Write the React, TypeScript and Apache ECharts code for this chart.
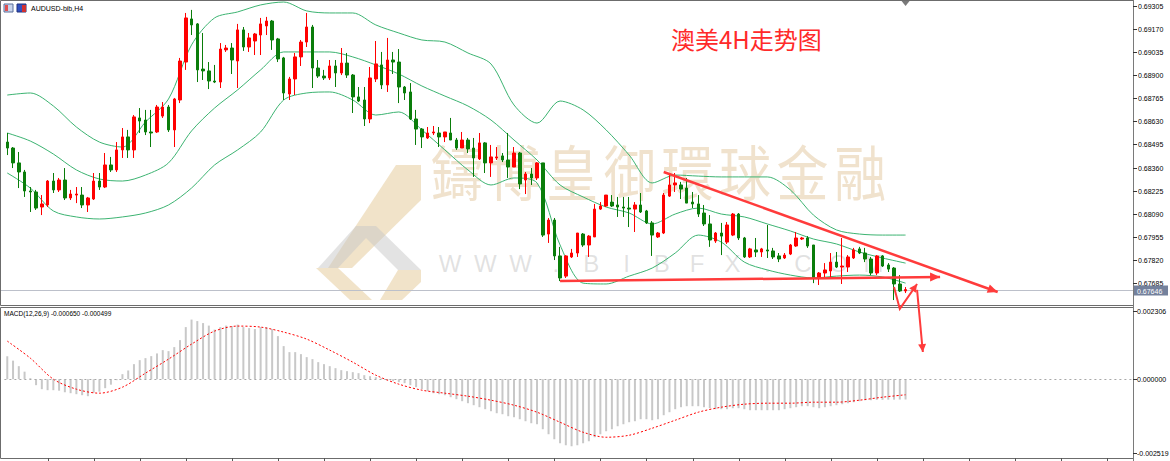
import React, { useEffect, useRef } from "react";
import * as echarts from "echarts";

// [open, close, low, high]
const candles: number[][] = [
  [0.68509, 0.68474, 0.68433, 0.68562], [0.68474, 0.68387, 0.68357, 0.6848], [0.68387, 0.68334, 0.6824, 0.68451], [0.68334, 0.68223, 0.68188, 0.68346],
  [0.68223, 0.68217, 0.681, 0.68246], [0.68217, 0.68123, 0.68112, 0.68229], [0.68129, 0.68147, 0.68082, 0.68199], [0.68141, 0.68281, 0.68129, 0.68287],
  [0.68281, 0.68229, 0.68211, 0.68328], [0.68229, 0.68287, 0.68217, 0.68299], [0.68287, 0.68182, 0.6817, 0.68357], [0.68182, 0.68205, 0.6817, 0.68229],
  [0.68199, 0.68205, 0.68152, 0.68246], [0.68199, 0.68141, 0.68123, 0.68246], [0.68141, 0.68182, 0.681, 0.68188], [0.68176, 0.68281, 0.6817, 0.68328],
  [0.68281, 0.68246, 0.68229, 0.68328], [0.68246, 0.68375, 0.6824, 0.68445], [0.68375, 0.68346, 0.68334, 0.68422], [0.68346, 0.68463, 0.68334, 0.68509],
  [0.68463, 0.68539, 0.68416, 0.68591], [0.68539, 0.68463, 0.68416, 0.6858], [0.68463, 0.68656, 0.68416, 0.68667], [0.6865, 0.68632, 0.68562, 0.68708],
  [0.68638, 0.68568, 0.6855, 0.68697], [0.68568, 0.68562, 0.6848, 0.68697], [0.68568, 0.68714, 0.68562, 0.68726], [0.68661, 0.68714, 0.6865, 0.68743],
  [0.68714, 0.6858, 0.68568, 0.68726], [0.6858, 0.68761, 0.6848, 0.68767], [0.68755, 0.68983, 0.68737, 0.69001], [0.68977, 0.69235, 0.68931, 0.69264],
  [0.69229, 0.69194, 0.69135, 0.69282], [0.692, 0.68931, 0.6886, 0.69205], [0.68936, 0.68925, 0.68872, 0.69147], [0.68925, 0.68866, 0.68819, 0.68977],
  [0.68866, 0.6886, 0.68854, 0.6896], [0.6886, 0.69053, 0.68825, 0.69088], [0.69048, 0.69059, 0.69036, 0.69077], [0.69059, 0.68989, 0.68907, 0.69088],
  [0.68983, 0.69165, 0.68825, 0.692], [0.69165, 0.69065, 0.69042, 0.69182], [0.69065, 0.69118, 0.69036, 0.69147], [0.691, 0.69141, 0.69018, 0.69147],
  [0.69135, 0.692, 0.69018, 0.69235], [0.69188, 0.69217, 0.69135, 0.69241], [0.69217, 0.69106, 0.69048, 0.69223], [0.69112, 0.68995, 0.68977, 0.69118],
  [0.69001, 0.68796, 0.68755, 0.69007], [0.6879, 0.68878, 0.68755, 0.6889], [0.68878, 0.69007, 0.68784, 0.6903], [0.69007, 0.69094, 0.68954, 0.69106],
  [0.69094, 0.69182, 0.69065, 0.69264], [0.69182, 0.68942, 0.68825, 0.69194], [0.68942, 0.68895, 0.68884, 0.68989], [0.68895, 0.68884, 0.68872, 0.68931],
  [0.68884, 0.68954, 0.68872, 0.68989], [0.68954, 0.68913, 0.68831, 0.68989], [0.68913, 0.68971, 0.68901, 0.69059], [0.68971, 0.68901, 0.68884, 0.6903],
  [0.68901, 0.68773, 0.68679, 0.68907], [0.68773, 0.68749, 0.68743, 0.68831], [0.68755, 0.68644, 0.68603, 0.68831], [0.68644, 0.68884, 0.6862, 0.68948],
  [0.68878, 0.68966, 0.6886, 0.691], [0.6896, 0.68843, 0.68819, 0.69036], [0.68843, 0.68989, 0.68802, 0.69118], [0.68989, 0.68977, 0.68907, 0.69036],
  [0.68977, 0.68831, 0.68737, 0.69053], [0.68831, 0.68796, 0.68755, 0.68837], [0.68802, 0.68644, 0.68638, 0.68854], [0.68644, 0.68585, 0.68492, 0.68697],
  [0.68585, 0.68539, 0.68474, 0.68591], [0.68533, 0.68562, 0.68527, 0.68597], [0.68562, 0.68568, 0.6855, 0.68603], [0.68562, 0.68539, 0.6848, 0.68597],
  [0.68539, 0.68568, 0.68509, 0.68568], [0.68562, 0.68521, 0.68521, 0.6865], [0.68521, 0.68474, 0.68463, 0.68533], [0.68474, 0.68521, 0.68474, 0.68568],
  [0.68521, 0.68469, 0.68445, 0.68533], [0.68474, 0.68416, 0.68305, 0.68533], [0.6841, 0.68504, 0.68404, 0.68562], [0.68504, 0.68387, 0.68328, 0.68509],
  [0.68387, 0.68422, 0.68305, 0.68492], [0.68416, 0.68422, 0.68404, 0.6848], [0.68428, 0.68404, 0.68392, 0.68445], [0.68404, 0.68363, 0.68299, 0.68562],
  [0.68363, 0.68445, 0.68363, 0.6848], [0.68445, 0.68264, 0.68234, 0.68451], [0.68287, 0.68322, 0.68205, 0.68334], [0.68322, 0.68299, 0.68258, 0.68357],
  [0.68299, 0.68387, 0.68287, 0.68392], [0.68387, 0.67965, 0.67954, 0.68387], [0.67971, 0.68053, 0.67919, 0.68065], [0.68053, 0.67843, 0.67819, 0.68065],
  [0.67843, 0.67714, 0.67696, 0.67896], [0.67725, 0.67843, 0.67714, 0.67848], [0.67837, 0.6786, 0.67831, 0.67884], [0.6786, 0.67977, 0.67837, 0.67977],
  [0.67971, 0.67907, 0.67896, 0.67977], [0.67907, 0.67959, 0.67837, 0.67965], [0.67954, 0.68117, 0.67954, 0.68147], [0.68117, 0.68135, 0.68112, 0.68158],
  [0.68135, 0.68199, 0.68129, 0.68199], [0.68158, 0.68135, 0.68129, 0.68199], [0.68141, 0.68129, 0.68071, 0.68188], [0.68129, 0.68123, 0.68071, 0.68188],
  [0.68123, 0.68117, 0.68012, 0.68188], [0.68117, 0.68141, 0.67983, 0.68158], [0.68141, 0.681, 0.68094, 0.68211], [0.68106, 0.68036, 0.6803, 0.68112],
  [0.68036, 0.67965, 0.67843, 0.68047], [0.67954, 0.67977, 0.67948, 0.67983], [0.67977, 0.68199, 0.67971, 0.68211], [0.68193, 0.68258, 0.68188, 0.68316],
  [0.68258, 0.6827, 0.68217, 0.68328], [0.68258, 0.68234, 0.68176, 0.68276], [0.6824, 0.68152, 0.68152, 0.68299], [0.68158, 0.68147, 0.68123, 0.68217],
  [0.68147, 0.68088, 0.68071, 0.68199], [0.68094, 0.6803, 0.68018, 0.68141], [0.6803, 0.67936, 0.67896, 0.68082], [0.6793, 0.67977, 0.67919, 0.67983],
  [0.67977, 0.67959, 0.67848, 0.68036], [0.67924, 0.68024, 0.67913, 0.68041], [0.67965, 0.68088, 0.67959, 0.68094], [0.68088, 0.67948, 0.67936, 0.68094],
  [0.67948, 0.67837, 0.67831, 0.67954], [0.67837, 0.67884, 0.67831, 0.6789], [0.67878, 0.67866, 0.67837, 0.67948], [0.67866, 0.67884, 0.67837, 0.6789],
  [0.67878, 0.67872, 0.67831, 0.68024], [0.67872, 0.67837, 0.67825, 0.6789], [0.67843, 0.67825, 0.67807, 0.6786], [0.67831, 0.67848, 0.67825, 0.6786],
  [0.67854, 0.67907, 0.67848, 0.67913], [0.67901, 0.67948, 0.67896, 0.67983], [0.67942, 0.67948, 0.67936, 0.67954], [0.67948, 0.67901, 0.6789, 0.67959],
  [0.67907, 0.67714, 0.67684, 0.67907], [0.67714, 0.67743, 0.67673, 0.67749], [0.67743, 0.67761, 0.67714, 0.67801], [0.67755, 0.67807, 0.67714, 0.6786],
  [0.67807, 0.67778, 0.67772, 0.67866], [0.67778, 0.67784, 0.67679, 0.67948], [0.67778, 0.67837, 0.67749, 0.67848], [0.67831, 0.67878, 0.67825, 0.6789],
  [0.67884, 0.6786, 0.67854, 0.67896], [0.6786, 0.67825, 0.67807, 0.6789], [0.67825, 0.67743, 0.67731, 0.67837], [0.67743, 0.67843, 0.67731, 0.67848],
  [0.67843, 0.67784, 0.67778, 0.67848], [0.6779, 0.67766, 0.67749, 0.67801], [0.67772, 0.67679, 0.67585, 0.67778], [0.67679, 0.67638, 0.67632, 0.67731],
  [0.67638, 0.67646, 0.67626, 0.67661],
];

// Bollinger bands read at every 4th bar
const bandIdx = [0, 4, 8, 12, 16, 20, 24, 28, 32, 36, 40, 44, 48, 52, 56, 60, 64, 68, 72, 76, 80, 84, 88, 92, 96, 100, 104, 108, 112, 116, 120, 124, 128, 132, 136, 140, 144, 148, 152, 156];
const bandUpper = [0.68784, 0.68796, 0.6872, 0.68597, 0.68509, 0.6848, 0.68626, 0.68761, 0.69077, 0.69235, 0.6927, 0.69311, 0.69328, 0.69276, 0.69264, 0.69264, 0.69194, 0.69147, 0.69106, 0.69094, 0.6903, 0.68966, 0.68726, 0.6862, 0.68749, 0.68697, 0.6858, 0.68433, 0.6827, 0.68316, 0.6831, 0.68305, 0.68305, 0.68305, 0.68229, 0.68082, 0.67995, 0.67971, 0.67965, 0.67965];
const bandMid = [0.68562, 0.68515, 0.68439, 0.68346, 0.68293, 0.68281, 0.68316, 0.68387, 0.68574, 0.68708, 0.68814, 0.68931, 0.69036, 0.69036, 0.69036, 0.69007, 0.6896, 0.68907, 0.68837, 0.68778, 0.6872, 0.68638, 0.68521, 0.68404, 0.68258, 0.68188, 0.68129, 0.68094, 0.6803, 0.68088, 0.68123, 0.68088, 0.68071, 0.6803, 0.67989, 0.67942, 0.67913, 0.67866, 0.67831, 0.67801];
const bandLower = [0.68328, 0.6824, 0.68106, 0.68071, 0.68059, 0.68071, 0.68094, 0.68141, 0.6824, 0.68375, 0.68463, 0.68568, 0.68755, 0.68796, 0.68802, 0.68755, 0.68667, 0.68685, 0.6858, 0.68463, 0.68346, 0.68258, 0.68299, 0.6827, 0.67907, 0.67684, 0.67679, 0.67725, 0.67772, 0.6786, 0.67965, 0.67924, 0.67807, 0.67761, 0.67731, 0.67714, 0.67725, 0.67731, 0.6772, 0.67684];

const macdMain = [
  0.000736, 0.000592, 0.000416, 0.00024, 0.000032, -0.000192, -0.00032, -0.000352, -0.000352, -0.000368,
  -0.000416, -0.000448, -0.00048, -0.000512, -0.000544, -0.000432, -0.0004, -0.000288, -0.000176, -0.000032,
  0.00016, 0.000278, 0.00048, 0.000608, 0.000672, 0.000736, 0.000822, 0.000928, 0.000896, 0.001024,
  0.001248, 0.001664, 0.001904, 0.001856, 0.001792, 0.001712, 0.001584, 0.001664, 0.001712, 0.001696,
  0.001744, 0.001664, 0.001632, 0.0016, 0.001664, 0.001664, 0.0016, 0.001376, 0.001056, 0.000864,
  0.000864, 0.0008, 0.000704, 0.00064, 0.000544, 0.00048, 0.000416, 0.000352, 0.000288, 0.000256,
  0.000224, 0.000192, 0.000128, 0.000096, 0.000064, 0.000032, -0.000032, -0.000064, -0.000096, -0.000128,
  -0.000192, -0.000256, -0.00032, -0.000384, -0.000448, -0.00048, -0.000512, -0.000576, -0.00064, -0.000704,
  -0.000768, -0.000832, -0.000896, -0.00096, -0.001024, -0.001088, -0.00112, -0.001184, -0.001216, -0.00128,
  -0.001344, -0.001408, -0.00144, -0.0016, -0.00176, -0.00192, -0.002048, -0.002112, -0.002144, -0.002112,
  -0.002048, -0.001984, -0.001856, -0.00176, -0.001664, -0.0016, -0.001504, -0.00144, -0.001376, -0.001344,
  -0.00128, -0.00128, -0.001312, -0.00128, -0.001152, -0.001056, -0.00096, -0.000896, -0.000864, -0.000864,
  -0.000864, -0.000896, -0.000928, -0.00096, -0.00096, -0.00096, -0.000928, -0.000928, -0.00096, -0.000992,
  -0.000992, -0.000992, -0.000992, -0.000992, -0.000992, -0.00096, -0.000928, -0.000896, -0.000864, -0.000864,
  -0.000896, -0.000928, -0.000896, -0.000864, -0.000832, -0.0008, -0.000768, -0.000736, -0.000704, -0.000672,
  -0.000672, -0.00066, -0.00066, -0.000655, -0.000655, -0.000652, -0.00065,
];
const signalIdx = bandIdx;
const macdSignal = [0.001216, 0.000672, 0, -0.00032, -0.000448, -0.000256, 0.000192, 0.00064, 0.00112, 0.001536, 0.001696, 0.001664, 0.001504, 0.00128, 0.000928, 0.000544, 0.000128, -0.00016, -0.000352, -0.000448, -0.000544, -0.000672, -0.000832, -0.001056, -0.001376, -0.001696, -0.001856, -0.001792, -0.001568, -0.001312, -0.001056, -0.000896, -0.0008, -0.000768, -0.000768, -0.000736, -0.000736, -0.000672, -0.000576, -0.000499];

const priceTicks = [0.69305, 0.6917, 0.69035, 0.689, 0.68765, 0.6863, 0.68495, 0.6836, 0.68225, 0.6809, 0.67955, 0.6782, 0.67685];
const macdTicks = [0.002306, 0, -0.002519];
const lastPrice = 0.67646;
const priceMin = 0.67556;
const priceMax = 0.69334;

// hand-drawn annotations in [bar index, price]
const trendLine = [[114, 0.68334], [172.4, 0.67632]];
const supportLine = [[95.5, 0.67696], [162.3, 0.6772]];
const vArrow = [[154.3, 0.67661], [155.2, 0.67533], [157.8, 0.67679]];
const downArrow = [[157.6, 0.67644], [159.4, 0.67281]];

const EMPTY_SLOTS = 39;
const TOTAL = candles.length + EMPTY_SLOTS;
const categories = Array.from({ length: TOTAL }, (_, i) => String(i));

function sparse(idx: number[], vals: number[]) {
  const arr: (number | null)[] = new Array(candles.length).fill(null);
  idx.forEach((k, j) => (arr[k] = vals[j]));
  return arr;
}

const SMALL = '"Liberation Sans", Arial, sans-serif';
const RED_ANN = "#ff3b3b";

function arrowHead(p: number[], q: number[], len = 10, half = 4.5) {
  const dx = q[0] - p[0];
  const dy = q[1] - p[1];
  const d = Math.hypot(dx, dy) || 1;
  const ux = dx / d, uy = dy / d;
  const bx = q[0] - ux * len, by = q[1] - uy * len;
  return {
    type: "polygon",
    z: 100,
    silent: true,
    shape: { points: [q, [bx - uy * half, by + ux * half], [bx + uy * half, by - ux * half]] },
    style: { fill: RED_ANN },
  };
}

export default function App() {
  const ref = useRef<HTMLDivElement>(null);
  useEffect(() => {
    const chart = echarts.init(ref.current!, null, { renderer: "svg" });
    const left = 4.4;
    const right = 37;
    chart.setOption({
      animation: false,
      backgroundColor: "#ffffff",
      grid: [
        { left, right, top: 1, height: 304 },
        { left, right, top: 307, height: 151 },
      ],
      xAxis: [
        { type: "category", gridIndex: 0, data: categories, boundaryGap: true, axisLine: { show: false }, axisTick: { show: false }, axisLabel: { show: false }, splitLine: { show: false } },
        { type: "category", gridIndex: 1, data: categories, boundaryGap: true, axisLine: { show: false }, axisTick: { show: false }, axisLabel: { show: false }, splitLine: { show: false } },
      ],
      yAxis: [
        { type: "value", gridIndex: 0, min: priceMin, max: priceMax, position: "right", axisLine: { show: false }, axisTick: { show: false }, axisLabel: { show: false }, splitLine: { show: false } },
        { type: "value", gridIndex: 1, min: -0.002519, max: 0.002306, position: "right", axisLine: { show: false }, axisTick: { show: false }, axisLabel: { show: false }, splitLine: { show: false } },
      ],
      series: [
        {
          type: "line", xAxisIndex: 0, yAxisIndex: 0, data: sparse(bandIdx, bandUpper), connectNulls: true, showSymbol: false, smooth: 0.3,
          lineStyle: { color: "#3cb371", width: 1 }, silent: true, z: 1,
        },
        {
          type: "line", xAxisIndex: 0, yAxisIndex: 0, data: sparse(bandIdx, bandMid), connectNulls: true, showSymbol: false, smooth: 0.3,
          lineStyle: { color: "#3cb371", width: 1 }, silent: true, z: 1,
        },
        {
          type: "line", xAxisIndex: 0, yAxisIndex: 0, data: sparse(bandIdx, bandLower), connectNulls: true, showSymbol: false, smooth: 0.3,
          lineStyle: { color: "#3cb371", width: 1 }, silent: true, z: 1,
        },
        {
          type: "candlestick", xAxisIndex: 0, yAxisIndex: 0, data: candles, barWidth: 3, z: 3,
          itemStyle: { color: "#ff0000", color0: "#0a7d0a", borderColor: "#ff0000", borderColor0: "#0a7d0a", borderWidth: 1 },
        },
        {
          type: "bar", xAxisIndex: 1, yAxisIndex: 1, data: macdMain, barWidth: 2, itemStyle: { color: "#c8c8c8" },
          markLine: {
            silent: true, symbol: "none", label: { show: false },
            lineStyle: { color: "#a8a8a8", type: [2, 3], width: 1 },
            data: [{ yAxis: 0 }],
          },
        },
        {
          type: "line", xAxisIndex: 1, yAxisIndex: 1, data: sparse(signalIdx, macdSignal), connectNulls: true, showSymbol: false, smooth: 0.3,
          lineStyle: { color: "#ff0000", width: 1, type: [2, 2] }, silent: true,
        },
      ],
    });

    const px = (p: number[]) => chart.convertToPixel({ gridIndex: 0 }, p) as number[];
    const g: any[] = [];

    // frames
    g.push({ type: "rect", silent: true, shape: { x: 0.5, y: 0.5, width: 1133, height: 305 }, style: { fill: "none", stroke: "#6c6c6c", lineWidth: 1 }, z: 50 });
    g.push({ type: "rect", silent: true, shape: { x: 0.5, y: 307.5, width: 1133, height: 151 }, style: { fill: "none", stroke: "#6c6c6c", lineWidth: 1 }, z: 50 });
    g.push({ type: "line", silent: true, shape: { x1: 1133.5, y1: 0, x2: 1133.5, y2: 461 }, style: { stroke: "#7a7a7a", lineWidth: 1 }, z: 50 });

    // bid line
    {
      const y = Math.round(chart.convertToPixel({ yAxisIndex: 0 }, lastPrice) as number) + 0.5;
      g.push({ type: "line", silent: true, shape: { x1: 1, y1: y, x2: 1133, y2: y }, style: { stroke: "#bcc0ca", lineWidth: 1 }, z: 2 });
    }

    // price axis labels
    priceTicks.forEach((t) => {
      const y = Math.round(chart.convertToPixel({ yAxisIndex: 0 }, t) as number) + 0.5;
      g.push({ type: "line", silent: true, shape: { x1: 1133, y1: y, x2: 1137, y2: y }, style: { stroke: "#333", lineWidth: 1 }, z: 50 });
      g.push({ type: "text", silent: true, x: 1138, y, style: { text: t.toFixed(5), font: `7px ${SMALL}`, fill: "#000", verticalAlign: "middle" }, z: 50 });
    });
    {
      const y = chart.convertToPixel({ yAxisIndex: 0 }, lastPrice) as number;
      g.push({ type: "rect", silent: true, shape: { x: 1134, y: y - 4, width: 34, height: 10 }, style: { fill: "#74819c" }, z: 51 });
      g.push({ type: "text", silent: true, x: 1137, y: y + 1.5, style: { text: lastPrice.toFixed(5), font: `7px ${SMALL}`, fill: "#fff", verticalAlign: "middle" }, z: 52 });
    }
    // macd axis labels
    macdTicks.forEach((t, k) => {
      const yp = chart.convertToPixel({ yAxisIndex: 1 }, t) as number;
      const y = k === 0 ? yp + 4 : k === macdTicks.length - 1 ? yp - 5 : yp;
      g.push({ type: "line", silent: true, shape: { x1: 1133, y1: Math.round(y) + 0.5, x2: 1137, y2: Math.round(y) + 0.5 }, style: { stroke: "#333", lineWidth: 1 }, z: 50 });
      g.push({ type: "text", silent: true, x: 1137, y, style: { text: t.toFixed(6), font: `7px ${SMALL}`, fill: "#000", verticalAlign: "middle" }, z: 50 });
    });
    // bottom time ticks
    for (let i = 7; i < TOTAL; i += 8) {
      const x = Math.round((chart.convertToPixel({ xAxisIndex: 1 }, i) as number)) + 0.5;
      g.push({ type: "line", silent: true, shape: { x1: x, y1: 458, x2: x, y2: 461 }, style: { stroke: "#555", lineWidth: 1 }, z: 50 });
    }
    // shift marker
    {
      const x = chart.convertToPixel({ xAxisIndex: 0 }, candles.length - 1) as number;
      g.push({ type: "polygon", silent: true, shape: { points: [[x - 4, 1], [x + 4, 1], [x, 6]] }, style: { fill: "#7a7a7a" }, z: 51 });
    }

    // header texts
    g.push({ type: "rect", silent: true, shape: { x: 4, y: 4, width: 9, height: 8 }, style: { fill: "#c8d4ec", stroke: "#5b6f9a", lineWidth: 1 }, z: 50 });
    g.push({ type: "rect", silent: true, shape: { x: 5, y: 5, width: 3, height: 6 }, style: { fill: "#e05050" }, z: 51 });
    g.push({ type: "rect", silent: true, shape: { x: 17, y: 4, width: 9, height: 8 }, style: { fill: "#3050c0", stroke: "#20307a", lineWidth: 1 }, z: 50 });
    g.push({ type: "rect", silent: true, shape: { x: 22, y: 5, width: 4, height: 7 }, style: { fill: "#d03030" }, z: 51 });
    g.push({ type: "text", silent: true, x: 31, y: 8.5, style: { text: "AUDUSD-bib,H4", font: `7px ${SMALL}`, fill: "#000", verticalAlign: "middle" }, z: 50 });
    g.push({ type: "text", silent: true, x: 4, y: 313.5, style: { text: "MACD(12,26,9) -0.000650 -0.000499", font: `6.5px ${SMALL}`, fill: "#000", verticalAlign: "middle" }, z: 50 });
    g.push({ type: "text", silent: true, x: 671, y: 38, style: { text: "澳美4H走势图", font: '24px "Noto Sans CJK SC"', fill: "#ff2a2a", verticalAlign: "middle" }, z: 50 });

    // watermark
    const wm = "鑄博皇御環球金融";
    [...wm].forEach((ch, k) => {
      g.push({
        type: "text", silent: true, x: 457 + 57.6 * k, y: 200, scaleY: 1.15, originX: 457 + 57.6 * k, originY: 200,
        style: { text: ch, font: '52px "Noto Sans CJK TC"', fill: "rgba(222,190,145,0.45)", align: "center", verticalAlign: "middle" }, z: 0,
      });
    });
    const www = "WWW.BIBFX.COM";
    [...www].forEach((ch, k) => {
      g.push({ type: "text", silent: true, x: 450 + 35.3 * k, y: 263, style: { text: ch, font: `24px ${SMALL}`, fill: "rgba(170,170,170,0.35)", align: "center", verticalAlign: "middle" }, z: 0 });
    });
    // logo
    g.push({ type: "polygon", silent: true, shape: { points: [[396, 165], [421, 165], [421, 200], [352, 268], [328, 268]] }, style: { fill: "rgba(232,208,165,0.6)" }, z: 0 });
    g.push({ type: "polygon", silent: true, shape: { points: [[318, 268], [356, 226], [376, 226], [421, 270], [398, 270], [366, 238], [338, 268]] }, style: { fill: "rgba(200,200,200,0.5)" }, z: 0 });
    g.push({ type: "polygon", silent: true, shape: { points: [[316, 268], [338, 268], [372, 300], [350, 300]] }, style: { fill: "rgba(232,208,165,0.6)" }, z: 0 });
    g.push({ type: "polygon", silent: true, shape: { points: [[398, 270], [421, 270], [421, 282], [402, 300], [380, 300]] }, style: { fill: "rgba(232,208,165,0.6)" }, z: 0 });

    // annotations
    const poly = (pts: number[][], w: number) => ({ type: "polyline", silent: true, z: 100, shape: { points: pts }, style: { stroke: RED_ANN, lineWidth: w, fill: "none" } });
    const tl = trendLine.map(px);
    g.push(poly(tl, 2.5), arrowHead(tl[0], tl[1]));
    const sl = supportLine.map(px);
    g.push(poly(sl, 2.5), arrowHead(sl[0], sl[1]));
    const va = vArrow.map(px);
    g.push(poly(va, 2), arrowHead(va[1], va[2], 8, 4));
    const da = downArrow.map(px);
    g.push(poly(da, 2), arrowHead(da[0], da[1], 8, 4));

    chart.setOption({ graphic: g });
    return () => chart.dispose();
  }, []);
  return <div ref={ref} style={{ position: "fixed", left: 0, top: 0, width: 1170, height: 461, background: "#fff" }} />;
}
